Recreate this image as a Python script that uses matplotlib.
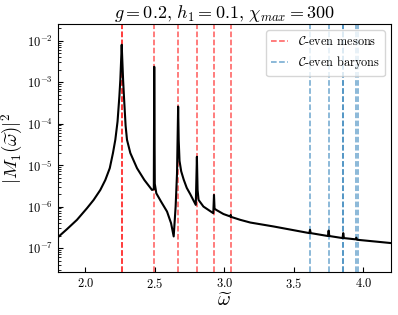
import numpy as np
import matplotlib
matplotlib.use('Agg')
from matplotlib import pyplot as plt

plt.rcParams['font.family'] = ['cmr10', 'DejaVu Serif']
plt.rcParams['mathtext.fontset'] = 'cm'
plt.rcParams['axes.formatter.use_mathtext'] = True

# spectral function |M_1(w)|^2 (omega, log10 value)
omega = [1.796, 1.868, 1.940, 2.012, 2.060, 2.108, 2.144, 2.176, 2.199, 2.216,
         2.232, 2.245, 2.252, 2.258, 2.262, 2.266, 2.272, 2.279, 2.290, 2.300,
         2.324, 2.372, 2.425, 2.480, 2.493,
         2.496, 2.500, 2.511, 2.545, 2.588, 2.617, 2.636, 2.650, 2.660,
         2.668, 2.672, 2.678, 2.690, 2.708, 2.730, 2.755, 2.795,
         2.803, 2.808, 2.815, 2.850,
         2.921, 2.926, 2.930, 2.942, 2.994, 3.044, 3.046, 3.050, 3.115, 3.187,
         3.355, 3.612, 3.617, 3.622, 3.746, 3.751, 3.756, 3.851, 3.856, 3.861,
         3.945, 3.950, 3.955, 4.20]
log_m2 = [-6.76, -6.545, -6.32, -6.04, -5.84, -5.60, -5.36, -5.075, -4.71, -4.39,
          -3.95, -3.35, -2.95, -2.45, -2.10, -2.45, -2.95, -3.40, -4.05, -4.39,
          -4.71, -5.075, -5.36, -5.60, -5.58,
          -2.63, -5.45, -5.68, -5.88, -6.12, -6.40, -6.72, -6.00, -5.20,
          -3.59, -4.40, -4.90, -5.15, -5.35, -5.55, -5.70, -5.96,
          -4.80, -5.60, -5.84, -6.00,
          -6.16, -5.72, -6.05, -6.08, -6.18, -6.24, -6.20, -6.25, -6.32, -6.385,
          -6.48, -6.64, -6.56, -6.64, -6.71, -6.58, -6.71, -6.76, -6.64, -6.76,
          -6.79, -6.75, -6.80, -6.88]

mesons = [2.262, 2.262, 2.496, 2.669, 2.804, 2.926, 3.046]
baryons = [3.617, 3.751, 3.854, 3.857, 3.947, 3.964]

fig = plt.figure(figsize=(3.98, 3.15), dpi=100)
ax = fig.add_axes([0.1445, 0.1355, 0.838, 0.788])

for i, m in enumerate(mesons):
    ax.axvline(m, color='red', ls='--', lw=1.1, alpha=0.65,
               label=r'$\mathcal{C}$-even mesons' if i == 0 else None)
for i, b in enumerate(baryons):
    ax.axvline(b, color='tab:blue', ls='--', lw=1.1, alpha=0.65,
               label=r'$\mathcal{C}$-even baryons' if i == 0 else None)

ax.plot(omega, 10.0 ** np.array(log_m2), color='black', lw=1.5)

ax.set_yscale('log')
ax.set_xlim(1.8, 4.2)
ax.set_ylim(2.6e-8, 2.5e-2)
ax.tick_params(which='both', direction='in', labelsize=9)
ax.set_xlabel(r'$\widetilde{\omega}$', fontsize=14, labelpad=1)
ax.set_ylabel(r'$|M_1(\widetilde{\omega})|^2$', fontsize=13.5, labelpad=1)
ax.set_title(r'$g=0.2,\, h_1=0.1,\, \chi_{max}=300$', fontsize=13, pad=3)
ax.legend(loc='upper right', fontsize=8.8, handlelength=1.4)

fig.savefig('out.png', dpi=100)
